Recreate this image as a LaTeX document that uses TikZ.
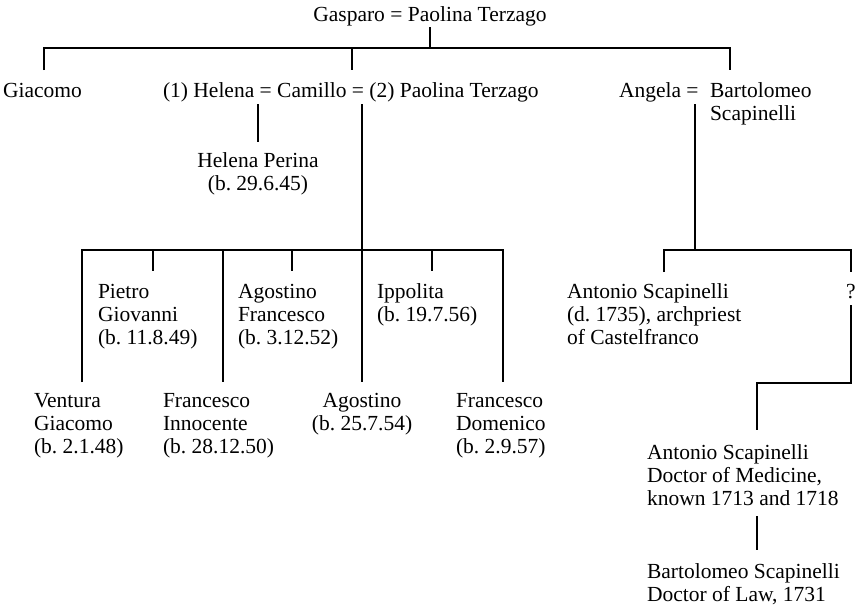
\documentclass[tikz,border=0pt]{standalone}
\usepackage{fontspec}
\setmainfont{Liberation Serif}
\begin{document}
\frenchspacing
\begin{tikzpicture}[x=1pt,y=-1pt,
  lbl/.style={inner sep=0pt,outer sep=0pt,font=\fontsize{21.5}{23}\selectfont},
  lw/.style={lbl,anchor=base west,align=left},
  lc/.style={lbl,anchor=base,align=center},
  ln/.style={line width=2.9pt}]
\useasboundingbox (0,0) rectangle (864,608);
% texts (anchor = baseline of last line)
\node[lc] (gas) at (430,21) {Gasparo = Paolina Terzago};
\node[lw] (gia) at (3,97) {Giacomo};
\node[lw] (cam) at (163,97) {(1) Helena = Camillo = (2) Paolina Terzago};
\node[lw] (ang) at (619,97) {Angela =};
\node[lw] (bar) at (710,120) {Bartolomeo\\Scapinelli};
\node[lc] (hel) at (258,190) {Helena Perina\\(b. 29.6.45)};
\node[lw] (pie) at (98,344) {Pietro\\Giovanni\\(b. 11.8.49)};
\node[lw] (agf) at (238,344) {Agostino\\Francesco\\(b. 3.12.52)};
\node[lw] (ipp) at (377,321) {Ippolita\\(b. 19.7.56)};
\node[lw] (ven) at (34,453) {Ventura\\Giacomo\\(b. 2.1.48)};
\node[lw] (fin) at (163,453) {Francesco\\Innocente\\(b. 28.12.50)};
\node[lc] (ago) at (362,430) {Agostino\\(b. 25.7.54)};
\node[lw] (fdo) at (456,453) {Francesco\\Domenico\\(b. 2.9.57)};
\node[lw] (ant) at (567,344) {Antonio Scapinelli\\(d. 1735), archpriest\\of Castelfranco};
\node[lc] (q) at (851,298) {?};
\node[lw] (ant2) at (647,505) {Antonio Scapinelli\\Doctor of Medicine,\\known 1713 and 1718};
\node[lw] (bar2) at (647,601) {Bartolomeo Scapinelli\\Doctor of Law, 1731};
% connectors
\coordinate (g1) at (430,27);
\coordinate (g2) at (430,48);
\draw[ln] (g1) -- (g2);
\draw[ln] (44,70) -- (44,48) -- (730,48) -- (730,70);
\draw[ln] (352,48) -- (352,70);
% Helena Perina
\draw[ln] (258,104) -- (258,142);
% Camillo children
\draw[ln] (362,104) -- (362,382);
\draw[ln] (82,382) -- (82,250) -- (503,250) -- (503,382);
\draw[ln] (223,250) -- (223,382);
\draw[ln] (153,250) -- (153,271);
\draw[ln] (292,250) -- (292,271);
\draw[ln] (432,250) -- (432,271);
% Angela children
\draw[ln] (695,104) -- (695,250);
\draw[ln] (664,272) -- (664,250) -- (851,250) -- (851,272);
\draw[ln] (851,305) -- (851,383) -- (757,383) -- (757,430);
\draw[ln] (757,516) -- (757,550);
\end{tikzpicture}
\end{document}
